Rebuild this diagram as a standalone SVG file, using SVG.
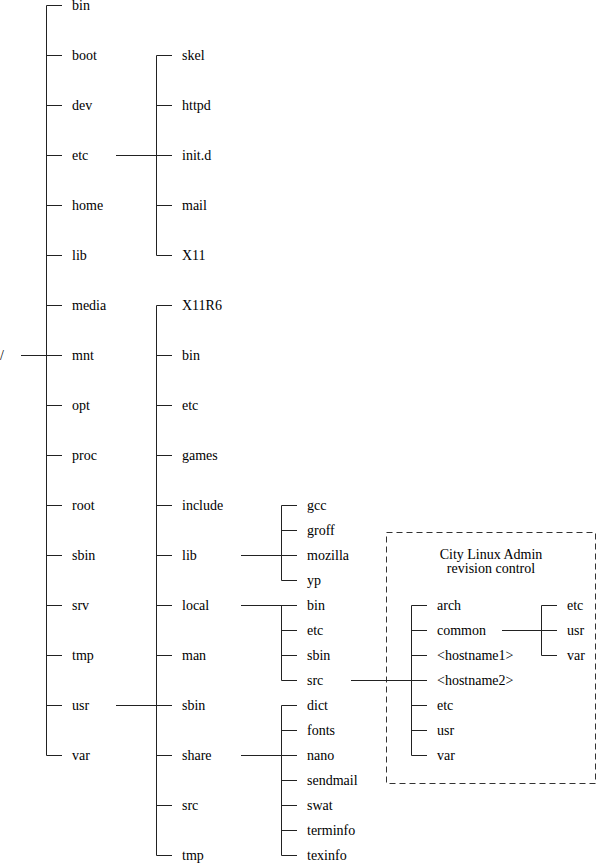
<svg xmlns="http://www.w3.org/2000/svg" width="597" height="863" viewBox="0 0 597 863">
<style>
text{font-family:"Liberation Serif","Times New Roman",serif;font-size:14px;fill:#000}
.c line,.c path{stroke:#222;stroke-width:1;fill:none}
.box{fill:none;stroke:#333;stroke-width:1;stroke-dasharray:6 4}
.t{text-anchor:middle}
</style>
<rect id="revision-box" class="box" x="386.5" y="532.5" width="209" height="251"/>
<g id="connectors" class="c">
<!-- root -->
<path d="M21 355.5H62M46.5 5.5V755.5M46.5 5.5H62M46.5 55.5H62M46.5 105.5H62M46.5 155.5H62M46.5 205.5H62M46.5 255.5H62M46.5 305.5H62M46.5 405.5H62M46.5 455.5H62M46.5 505.5H62M46.5 555.5H62M46.5 605.5H62M46.5 655.5H62M46.5 705.5H62M46.5 755.5H62"/>
<!-- etc -->
<path d="M116 155.5H172M156.5 55.5V255.5M156.5 55.5H172M156.5 105.5H172M156.5 205.5H172M156.5 255.5H172"/>
<!-- usr -->
<path d="M116 705.5H172M156.5 305.5V855.5M156.5 305.5H172M156.5 355.5H172M156.5 405.5H172M156.5 455.5H172M156.5 505.5H172M156.5 555.5H172M156.5 605.5H172M156.5 655.5H172M156.5 755.5H172M156.5 805.5H172M156.5 855.5H172"/>
<!-- usr/lib -->
<path d="M241 555.5H297M281.5 505.5V580.5M281.5 505.5H297M281.5 530.5H297M281.5 580.5H297"/>
<!-- usr/local -->
<path d="M241 605.5H297M281.5 605.5V680.5M281.5 630.5H297M281.5 655.5H297M281.5 680.5H297"/>
<!-- usr/share -->
<path d="M241 755.5H297M281.5 705.5V855.5M281.5 705.5H297M281.5 730.5H297M281.5 780.5H297M281.5 805.5H297M281.5 830.5H297M281.5 855.5H297"/>
<!-- usr/local/src -->
<path d="M351 680.5H427M411.5 605.5V755.5M411.5 605.5H427M411.5 630.5H427M411.5 655.5H427M411.5 705.5H427M411.5 730.5H427M411.5 755.5H427"/>
<!-- common -->
<path d="M502 630.5H557M541.5 605.5V655.5M541.5 605.5H557M541.5 655.5H557"/>
</g>
<g id="root"><text x="0" y="360">/</text></g>
<g id="bin"><text x="72" y="10">bin</text></g>
<g id="boot"><text x="72" y="60">boot</text></g>
<g id="dev"><text x="72" y="110">dev</text></g>
<g id="etc"><text x="72" y="160">etc</text></g>
<g id="home"><text x="72" y="210">home</text></g>
<g id="lib"><text x="72" y="260">lib</text></g>
<g id="media"><text x="72" y="310">media</text></g>
<g id="mnt"><text x="72" y="360">mnt</text></g>
<g id="opt"><text x="72" y="410">opt</text></g>
<g id="proc"><text x="72" y="460">proc</text></g>
<g id="root-dir"><text x="72" y="510">root</text></g>
<g id="sbin"><text x="72" y="560">sbin</text></g>
<g id="srv"><text x="72" y="610">srv</text></g>
<g id="tmp"><text x="72" y="660">tmp</text></g>
<g id="usr"><text x="72" y="710">usr</text></g>
<g id="var"><text x="72" y="760">var</text></g>

<g id="etc-skel"><text x="182" y="60">skel</text></g>
<g id="etc-httpd"><text x="182" y="110">httpd</text></g>
<g id="etc-initd"><text x="182" y="160">init.d</text></g>
<g id="etc-mail"><text x="182" y="210">mail</text></g>
<g id="etc-x11"><text x="182" y="260">X11</text></g>

<g id="usr-x11r6"><text x="182" y="310">X11R6</text></g>
<g id="usr-bin"><text x="182" y="360">bin</text></g>
<g id="usr-etc"><text x="182" y="410">etc</text></g>
<g id="usr-games"><text x="182" y="460">games</text></g>
<g id="usr-include"><text x="182" y="510">include</text></g>
<g id="usr-lib"><text x="182" y="560">lib</text></g>
<g id="usr-local"><text x="182" y="610">local</text></g>
<g id="usr-man"><text x="182" y="660">man</text></g>
<g id="usr-sbin"><text x="182" y="710">sbin</text></g>
<g id="usr-share"><text x="182" y="760">share</text></g>
<g id="usr-src"><text x="182" y="810">src</text></g>
<g id="usr-tmp"><text x="182" y="860">tmp</text></g>

<g id="lib-gcc"><text x="307" y="510">gcc</text></g>
<g id="lib-groff"><text x="307" y="535">groff</text></g>
<g id="lib-mozilla"><text x="307" y="560">mozilla</text></g>
<g id="lib-yp"><text x="307" y="585">yp</text></g>

<g id="local-bin"><text x="307" y="610">bin</text></g>
<g id="local-etc"><text x="307" y="635">etc</text></g>
<g id="local-sbin"><text x="307" y="660">sbin</text></g>
<g id="local-src"><text x="307" y="685">src</text></g>

<g id="share-dict"><text x="307" y="710">dict</text></g>
<g id="share-fonts"><text x="307" y="735">fonts</text></g>
<g id="share-nano"><text x="307" y="760">nano</text></g>
<g id="share-sendmail"><text x="307" y="785">sendmail</text></g>
<g id="share-swat"><text x="307" y="810">swat</text></g>
<g id="share-terminfo"><text x="307" y="835">terminfo</text></g>
<g id="share-texinfo"><text x="307" y="860">texinfo</text></g>

<g id="box-title"><text class="t" x="491" y="559">City Linux Admin</text><text class="t" x="491" y="573">revision control</text></g>
<g id="rc-arch"><text x="437" y="610">arch</text></g>
<g id="rc-common"><text x="437" y="635">common</text></g>
<g id="rc-hostname1"><text x="437" y="660">&lt;hostname1&gt;</text></g>
<g id="rc-hostname2"><text x="437" y="685">&lt;hostname2&gt;</text></g>
<g id="rc-etc"><text x="437" y="710">etc</text></g>
<g id="rc-usr"><text x="437" y="735">usr</text></g>
<g id="rc-var"><text x="437" y="760">var</text></g>

<g id="common-etc"><text x="567" y="610">etc</text></g>
<g id="common-usr"><text x="567" y="635">usr</text></g>
<g id="common-var"><text x="567" y="660">var</text></g>
</svg>
